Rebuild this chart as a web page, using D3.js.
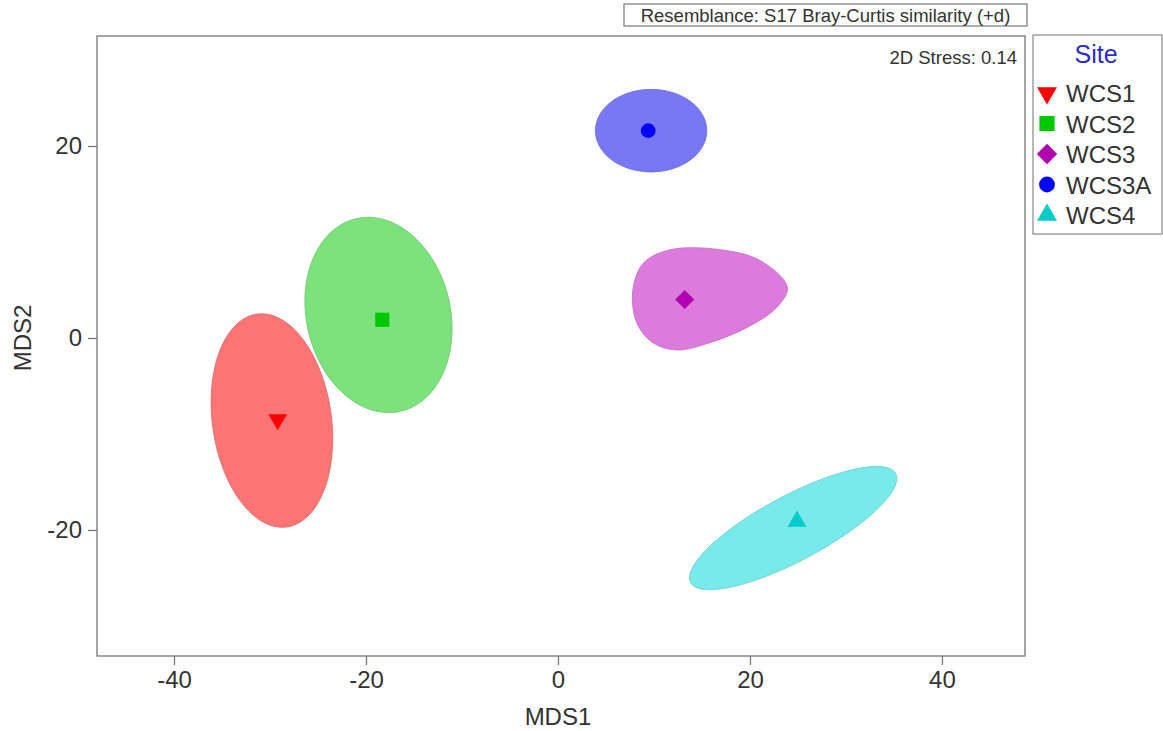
<!DOCTYPE html>
<html lang="en">
<head>
<meta charset="UTF-8">
<title>MDS Site ordination</title>
<script src="https://d3js.org/d3.v7.min.js"></script>
<style>
    body { margin: 0; background: #fff; font-family: "Liberation Sans", Arial, sans-serif; }
    svg { display: block; }
    .axis text { font-size: 24px; fill: #333; font-family: "Liberation Sans", Arial, sans-serif; }
    .axis path, .axis line { stroke: #777; stroke-width: 1.3; }
</style>
</head>
<body>
<svg width="1163" height="731"></svg>
<script>
// site names and symbols
const sites = ["WCS1", "WCS2", "WCS3", "WCS3A", "WCS4"];
const markerColors = ["#ff0000", "#00c800", "#b000b0", "#0000ff", "#00cccc"];
const fillColors = ["#ff7474", "#7ce27c", "#dd7bdd", "#7878f4", "#78eaea"];

// centroid positions (MDS1, MDS2)
const mds1 = [-29.2, -18.3, 13.2, 9.4, 24.9];
const mds2 = [-8.5, 1.9, 4.0, 21.6, -19.1];

// ellipse regions: centre, semi-axes, rotation (degrees, data space)
const ellCx = [-29.8, -18.7, null, 9.7, 24.5];
const ellCy = [-8.6, 2.4, null, 21.6, -19.8];
const ellA = [11.2, 10.3, null, 5.8, 12.1];
const ellB = [6.2, 7.5, null, 4.3, 3.4];
const ellRot = [98, 103, null, 0, 28];

// WCS3 region outline (irregular)
const wcs3X = [11.7, 16.9, 21.0, 23.9, 22.8, 19.7, 15.8, 12.4, 9.9, 8.2, 7.8, 8.9];
const wcs3Y = [9.2, 9.2, 8.1, 5.3, 3.2, 1.1, -0.5, -1.25, -0.5, 1.6, 5.0, 7.8];

const xTicks = [-40, -20, 0, 20, 40];
const yTicks = [-20, 0, 20];

const svg = d3.select("svg");
const margin = {top: 36, right: 138, bottom: 75, left: 97};
const width = 1163 - margin.left - margin.right;   // 928
const height = 731 - margin.top - margin.bottom;   // 620

const x = d3.scaleLinear().domain([-48.02, 48.65]).range([margin.left, margin.left + width]);
const y = d3.scaleLinear().domain([31.46, -33.13]).range([margin.top, margin.top + height]);

// frame
svg.append("rect")
    .attr("x", margin.left).attr("y", margin.top)
    .attr("width", width).attr("height", height)
    .attr("fill", "none").attr("stroke", "#888").attr("stroke-width", 1.5);

// axes
svg.append("g").attr("class", "axis")
    .attr("transform", `translate(0,${margin.top + height})`)
    .call(d3.axisBottom(x).tickValues(xTicks).tickSize(9).tickPadding(6).tickFormat(d => String(d)))
    .call(g => g.select(".domain").remove());

svg.append("g").attr("class", "axis")
    .attr("transform", `translate(${margin.left},0)`)
    .call(d3.axisLeft(y).tickValues(yTicks).tickSize(9).tickPadding(6).tickFormat(d => String(d)))
    .call(g => g.select(".domain").remove());

svg.append("text")
    .attr("x", x(0)).attr("y", 725)
    .attr("text-anchor", "middle")
    .style("font-size", "24px").attr("fill", "#333")
    .text("MDS1");

svg.append("text")
    .attr("transform", `translate(31,${y(0)}) rotate(-90)`)
    .attr("text-anchor", "middle")
    .style("font-size", "24px").attr("fill", "#333")
    .text("MDS2");

// regions
const line = d3.line().x(d => x(d[0])).y(d => y(d[1]));

function ellipsePts(i) {
    const r = ellRot[i] * Math.PI / 180;
    return d3.range(0, 360, 4).map(t => {
        const a = t * Math.PI / 180;
        const ex = ellA[i] * Math.cos(a), ey = ellB[i] * Math.sin(a);
        return [ellCx[i] + ex * Math.cos(r) - ey * Math.sin(r),
                ellCy[i] + ex * Math.sin(r) + ey * Math.cos(r)];
    });
}

const regions = svg.append("g");
sites.forEach((s, i) => {
    let pts, crv;
    if (ellCx[i] === null) {
        pts = wcs3X.map((v, k) => [v, wcs3Y[k]]);
        crv = d3.curveCatmullRomClosed.alpha(0.5);
    } else {
        pts = ellipsePts(i);
        crv = d3.curveLinearClosed;
    }
    regions.append("path")
        .attr("d", line.curve(crv)(pts))
        .attr("fill", fillColors[i])
        .attr("stroke", d3.color(fillColors[i]).darker(0.4))
        .attr("stroke-width", 0.8);
});

// symbols (diamond = rotated square)
const symbolTypes = [d3.symbolTriangle, d3.symbolSquare, d3.symbolSquare, d3.symbolCircle, d3.symbolTriangle];
const symbolRot = [180, 0, 45, 0, 0];
const symbolSizes = [150, 200, 180, 170, 150];

const markerShape = (i, scale) => d3.symbol().type(symbolTypes[i]).size(symbolSizes[i] * scale)();

svg.append("g").selectAll("path")
    .data(sites)
    .join("path")
    .attr("d", (d, i) => markerShape(i, 1))
    .attr("transform", (d, i) => `translate(${x(mds1[i])},${y(mds2[i])}) rotate(${symbolRot[i]})`)
    .attr("fill", (d, i) => markerColors[i]);

// stress label
svg.append("text")
    .attr("x", 1017).attr("y", 64)
    .attr("text-anchor", "end")
    .style("font-size", "18.5px").attr("fill", "#333")
    .text("2D Stress: 0.14");

// resemblance box
const res = svg.append("g");
res.append("rect")
    .attr("x", 624).attr("y", 4).attr("width", 403).attr("height", 22)
    .attr("fill", "#fff").attr("stroke", "#777").attr("stroke-width", 1.2);
res.append("text")
    .attr("x", 825.5).attr("y", 21.5)
    .attr("text-anchor", "middle")
    .style("font-size", "18.5px").attr("fill", "#333")
    .text("Resemblance: S17 Bray-Curtis similarity (+d)");

// legend
const lg = svg.append("g");
lg.append("rect")
    .attr("x", 1033).attr("y", 35).attr("width", 129).attr("height", 199)
    .attr("fill", "#fff").attr("stroke", "#888").attr("stroke-width", 1.2);
lg.append("text")
    .attr("x", 1096).attr("y", 63)
    .attr("text-anchor", "middle")
    .style("font-size", "25px").attr("fill", "#2b2bcc")
    .text("Site");
sites.forEach((s, i) => {
    const yy = 93 + i * 30.5;
    lg.append("path")
        .attr("d", markerShape(i, 1.15))
        .attr("transform", `translate(1047,${yy}) rotate(${symbolRot[i]})`)
        .attr("fill", markerColors[i]);
    lg.append("text")
        .attr("x", 1066).attr("y", yy + 9)
        .style("font-size", "24px").attr("fill", "#333")
        .text(s);
});
</script>
</body>
</html>
